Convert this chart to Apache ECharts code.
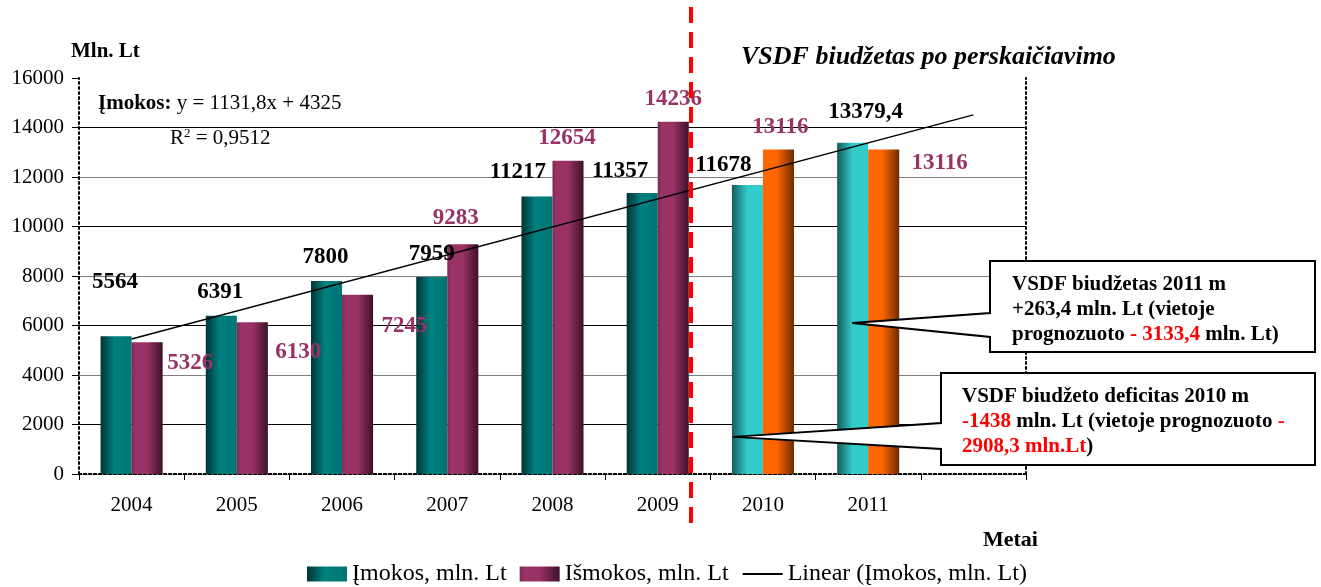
<!DOCTYPE html>
<html>
<head>
<meta charset="utf-8">
<script src="https://cdn.jsdelivr.net/npm/echarts@6/dist/echarts.min.js"></script>
<style>
  html, body { margin: 0; padding: 0; background: #fff; }
  #chart { width: 1321px; height: 587px; }
</style>
</head>
<body>
<div id="chart"></div>
<script>
// data
var years = ['2004', '2005', '2006', '2007', '2008', '2009', '2010', '2011', ''];
var imokos = [5564, 6391, 7800, 7959, 11217, 11357, 11678, 13379.4];
var ismokos = [5326, 6130, 7245, 9283, 12654, 14236, 13116, 13116];
// trend line endpoints (Įmokos: y = 1131,8x + 4325)
var trend = [5457, null, null, null, null, null, null, null, 14511];
var yTicks = [0, 2000, 4000, 6000, 8000, 10000, 12000, 14000, 16000];

// label offsets for each bar label
var imokosOff = [[-1, -43], [-1, -12], [-1, -12], [0, -11], [-19, -13], [-22, -10], [-24, -8], [13, -19]];
var ismokosOff = [[43, 32], [46, 41], [47, 43], [-7, -15], [-1, -11], [0, -11], [2, -11], [56, 25]];

var SERIF = '"Liberation Serif", "Times New Roman", serif';
var myChart = echarts.init(document.getElementById('chart'));

function grad(stops) {
    return new echarts.graphic.LinearGradient(0, 0, 1, 0, stops.map(function (s) {
        return { offset: s[0], color: s[1] };
    }));
}
var teal = grad([[0, '#003434'], [0.45, '#008080'], [1, '#007474']]);
var purple = grad([[0, '#7a2a52'], [0.12, '#993366'], [0.5, '#993366'], [1, '#3d1028']]);
var lightTeal = grad([[0, '#145c5c'], [0.5, '#33cccc'], [1, '#33cccc']]);
var orange = grad([[0, '#ff6600'], [0.45, '#ff6600'], [1, '#6b2b00']]);

function barData(vals, offs, color, lateColor, labelColor) {
    return vals.map(function (v, i) {
        return {
            value: v,
            itemStyle: { color: i >= 6 ? lateColor : color },
            label: { offset: offs[i], color: labelColor }
        };
    });
}

var dotted = { color: '#000', width: 2, type: [2, 3] };

var option = {
    animation: false,
    textStyle: { fontFamily: SERIF },
    title: [{
        text: 'Mln. Lt', left: 66, top: 36,
        textStyle: { fontFamily: SERIF, fontSize: 21, fontWeight: 'bold', color: '#000' }
    }, {
        text: 'VSDF biudžetas po perskaičiavimo', left: 736, top: 39,
        textStyle: { fontFamily: SERIF, fontSize: 26, fontWeight: 'bold', fontStyle: 'italic', color: '#000' }
    }, {
        text: 'Metai', left: 978, top: 524,
        textStyle: { fontFamily: SERIF, fontSize: 22, fontWeight: 'bold', color: '#000' }
    }],
    legend: {
        left: 302,
        top: 557,
        itemWidth: 40,
        itemHeight: 15,
        itemGap: 13,
        textStyle: { fontFamily: SERIF, fontSize: 24, color: '#000' },
        data: [
            { name: 'Įmokos, mln. Lt', icon: 'rect' },
            { name: 'Išmokos, mln. Lt', icon: 'rect' },
            { name: 'Linear (Įmokos, mln. Lt)', itemStyle: { opacity: 0 } }
        ]
    },
    grid: { left: 79, right: 295, top: 78, bottom: 113 },
    xAxis: [{
        type: 'category',
        data: years,
        axisLine: { show: true, lineStyle: dotted },
        axisTick: { show: true, length: 6, lineStyle: { color: '#000', width: 1 } },
        axisLabel: { color: '#000', fontSize: 21, fontFamily: SERIF, margin: 21 },
        splitLine: { show: false }
    }, {
        type: 'category',
        position: 'top',
        data: years,
        axisLine: { show: true, lineStyle: dotted },
        axisTick: { show: false },
        axisLabel: { show: false }
    }],
    yAxis: [{
        type: 'value',
        min: yTicks[0],
        max: yTicks[yTicks.length - 1],
        interval: 2000,
        axisLine: { show: true, lineStyle: dotted },
        axisTick: { show: true, length: 7, lineStyle: { color: '#000', width: 1 } },
        axisLabel: {
            color: '#000', fontSize: 21, fontFamily: SERIF, margin: 15,
            formatter: function (v) { return String(v); }
        },
        splitLine: {
            show: true,
            lineStyle: {
                width: 1,
                color: ['#808080', '#000', '#808080', '#000', '#808080', '#000', '#808080', '#000', 'rgba(0,0,0,0)']
            }
        }
    }, {
        type: 'value',
        position: 'right',
        min: 0,
        max: 16000,
        interval: 2000,
        axisLine: { show: true, lineStyle: dotted },
        axisTick: { show: false },
        axisLabel: { show: false },
        splitLine: { show: false }
    }],
    series: [{
        name: 'Įmokos, mln. Lt',
        type: 'bar',
        barGap: '0%',
        barCategoryGap: '41%',
        itemStyle: { color: teal },
        label: {
            show: true, position: 'top', distance: 0,
            fontFamily: SERIF, fontSize: 23, fontWeight: 'bold',
            formatter: function (p) { return String(p.value).replace('.', ','); }
        },
        data: barData(imokos, imokosOff, teal, lightTeal, '#000')
    }, {
        name: 'Išmokos, mln. Lt',
        type: 'bar',
        itemStyle: { color: purple },
        label: {
            show: true, position: 'top', distance: 0,
            fontFamily: SERIF, fontSize: 23, fontWeight: 'bold'
        },
        data: barData(ismokos, ismokosOff, purple, orange, '#993366')
    }, {
        name: 'Linear (Įmokos, mln. Lt)',
        type: 'line',
        symbol: 'none',
        connectNulls: true,
        lineStyle: { color: '#000', width: 1.5 },
        itemStyle: { color: '#000' },
        z: 5,
        data: trend
    }]
};

myChart.setOption(option);

// annotations placed from the axes
var p2009 = myChart.convertToPixel({ xAxisIndex: 0, yAxisIndex: 0 }, ['2009', 0]);
var p2010 = myChart.convertToPixel({ xAxisIndex: 0, yAxisIndex: 0 }, ['2010', 1500]);
var p2011 = myChart.convertToPixel({ xAxisIndex: 0, yAxisIndex: 0 }, ['2011', 6100]);
var redX = Math.round(p2009[0] + 33);
var a1 = [p2011[0] - 16, p2011[1]];
var a2 = [p2010[0] - 30, p2010[1]];

var boxText = {
    fontFamily: SERIF, fontSize: 21, fontWeight: 'bold', fill: '#000', lineHeight: 25,
    rich: {
        b: { fontFamily: SERIF, fontSize: 21, fontWeight: 'bold', fill: '#000', lineHeight: 25 },
        r: { fontFamily: SERIF, fontSize: 21, fontWeight: 'bold', fill: '#ff0000', lineHeight: 25 }
    }
};

myChart.setOption({
    graphic: [{
        type: 'line',
        z: 100,
        shape: { x1: redX, y1: 7, x2: redX, y2: 527 },
        style: { stroke: '#ff0000', lineWidth: 4, lineDash: [16, 9] }
    }, {
        type: 'text',
        left: 98, top: 93, z: 100,
        style: {
            text: '{b|Įmokos:} y = 1131,8x + 4325',
            fontFamily: SERIF, fontSize: 21, fill: '#000',
            rich: { b: { fontFamily: SERIF, fontSize: 21, fontWeight: 'bold', fill: '#000' } }
        }
    }, {
        type: 'text',
        left: 170, top: 127, z: 100,
        style: {
            text: 'R{s|2} = 0,9512',
            fontFamily: SERIF, fontSize: 21, fill: '#000',
            rich: { s: { fontFamily: SERIF, fontSize: 13, fill: '#000', verticalAlign: 'top', padding: [0, 0, 10, 0] } }
        }
    }, {
        type: 'polygon',
        z: 100,
        shape: { points: [[990, 261], [1315, 261], [1315, 352], [990, 352], [990, 337], a1, [990, 313]] },
        style: { fill: '#fff', stroke: '#000', lineWidth: 2 }
    }, {
        type: 'text',
        z: 101,
        x: 1012, y: 272,
        style: Object.assign({}, boxText, {
            text: 'VSDF biudžetas 2011 m\n+263,4 mln. Lt (vietoje\nprognozuoto {r|- 3133,4} mln. Lt)'
        })
    }, {
        type: 'polygon',
        z: 100,
        shape: { points: [[941, 373], [1315, 373], [1315, 465], [941, 465], [941, 449], a2, [941, 423]] },
        style: { fill: '#fff', stroke: '#000', lineWidth: 2 }
    }, {
        type: 'text',
        z: 101,
        x: 962, y: 384,
        style: Object.assign({}, boxText, {
            text: 'VSDF biudžeto deficitas 2010 m\n{r|-1438} mln. Lt (vietoje prognozuoto {r|-}\n{r|2908,3 mln.Lt})'
        })
    }]
});
</script>
</body>
</html>
